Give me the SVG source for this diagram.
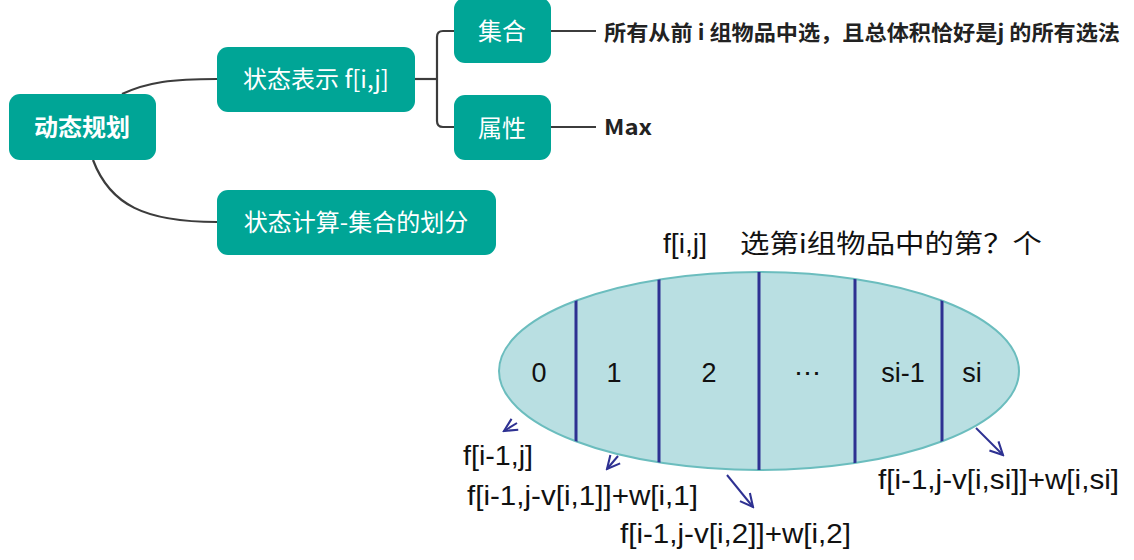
<svg xmlns="http://www.w3.org/2000/svg" width="1134" height="560" viewBox="0 0 1134 560">
<defs>
<style>
.node rect{fill:#00A596;}
.node text{fill:#fff;font-family:"Noto Sans CJK SC","Liberation Sans",sans-serif;font-size:24px;text-anchor:middle;}
.conn path{fill:none;stroke:#3c3c3c;stroke-width:2.2;}
.lab{font-family:"Noto Sans CJK SC","Liberation Sans",sans-serif;font-weight:bold;font-size:21px;fill:#222;}
.num{font-family:"Liberation Sans",Arial,sans-serif;font-size:27px;fill:#111;text-anchor:middle;}
.f{font-family:"Liberation Sans",Arial,sans-serif;font-size:28px;fill:#111;}
.div{stroke:#2E3192;stroke-width:3;}
.arr{stroke:#2E3192;stroke-width:2;fill:none;marker-end:url(#ah);}
</style>
<marker id="ah" viewBox="0 0 10 10" refX="9" refY="5" markerWidth="8" markerHeight="8" orient="auto" markerUnits="strokeWidth">
<path d="M1,1 L9,5 L1,9" fill="none" stroke="#2E3192" stroke-width="1.3"/>
</marker>
<clipPath id="ec"><ellipse cx="759" cy="371" rx="260" ry="99"/></clipPath>
</defs>
<rect width="1134" height="560" fill="#fff"/>

<g class="conn" id="connectors">
<path d="M122,94 C148,82 172,79 217,79"/>
<path d="M93,160 C110,205 145,222 217,222"/>
<path d="M415,79 L437,79"/>
<path d="M454,31 L443,31 Q437,31 437,37 L437,121 Q437,127 443,127 L454,127"/>
<path d="M551,31 L596,31"/>
<path d="M551,127 L596,127"/>
</g>

<g class="node" id="n-dp"><rect x="9" y="94" width="147" height="66" rx="11"/><text x="82" y="136" font-weight="bold">动态规划</text></g>
<g class="node" id="n-rep"><rect x="217" y="47" width="198" height="65" rx="11"/><text x="316" y="88">状态表示 f[i,j]</text></g>
<g class="node" id="n-set"><rect x="454" y="-2" width="97" height="65" rx="11"/><text x="502" y="40">集合</text></g>
<g class="node" id="n-attr"><rect x="454" y="95" width="97" height="65" rx="11"/><text x="502" y="137">属性</text></g>
<g class="node" id="n-calc"><rect x="217" y="190" width="279" height="65" rx="11"/><text x="356" y="231">状态计算-集合的划分</text></g>

<g id="t-set"><text class="lab" x="604" y="40" textLength="516" lengthAdjust="spacingAndGlyphs">所有从前 i 组物品中选，且总体积恰好是j 的所有选法</text></g>
<g id="t-max"><text class="lab" x="604" y="135" font-size="23" textLength="48" lengthAdjust="spacingAndGlyphs">Max</text></g>

<g id="ellipse">
<ellipse cx="759" cy="371" rx="260" ry="99" fill="#B9DFE2" stroke="#6BBDBE" stroke-width="2"/>
<g clip-path="url(#ec)">
<line class="div" x1="576" y1="260" x2="576" y2="480"/>
<line class="div" x1="659" y1="260" x2="659" y2="480"/>
<line class="div" x1="759" y1="260" x2="759" y2="480"/>
<line class="div" x1="855" y1="260" x2="855" y2="480"/>
<line class="div" x1="942" y1="260" x2="942" y2="480"/>
</g>
<text class="num" x="539" y="382">0</text>
<text class="num" x="614" y="382">1</text>
<text class="num" x="709" y="382">2</text>
<text class="num" x="807" y="382">⋯</text>
<text class="num" x="903" y="382">si-1</text>
<text class="num" x="972" y="382">si</text>
</g>

<g id="title">
<text class="f" x="663" y="253" font-size="27" textLength="44" lengthAdjust="spacingAndGlyphs">f[i,j]</text>
<text x="740" y="253" font-family="'Noto Sans CJK SC',serif" font-size="26" fill="#111" textLength="302" lengthAdjust="spacingAndGlyphs">选第i组物品中的第？个</text>
</g>

<g id="arrows">
<path class="arr" d="M517,423 L504,431"/>
<path class="arr" d="M618,456 L607,469"/>
<path class="arr" d="M727,475 L753,507"/>
<path class="arr" d="M976,428 L1003,455"/>
</g>

<g id="results">
<text class="f" x="463" y="465" textLength="70" lengthAdjust="spacingAndGlyphs">f[i-1,j]</text>
<text class="f" x="467" y="505" textLength="231" lengthAdjust="spacingAndGlyphs">f[i-1,j-v[i,1]]+w[i,1]</text>
<text class="f" x="620" y="543" textLength="231" lengthAdjust="spacingAndGlyphs">f[i-1,j-v[i,2]]+w[i,2]</text>
<text class="f" x="878" y="489" textLength="241" lengthAdjust="spacingAndGlyphs">f[i-1,j-v[i,si]]+w[i,si]</text>
</g>
</svg>
